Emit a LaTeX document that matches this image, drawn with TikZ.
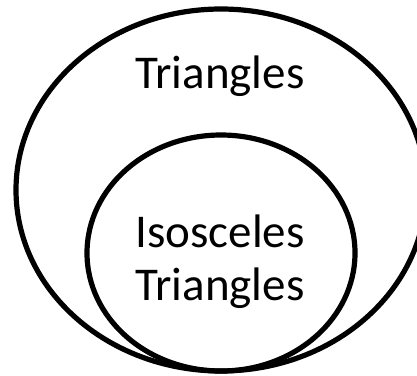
\documentclass[tikz,border=0pt]{standalone}
\usepackage{fontspec}
\setmainfont{Carlito}
\begin{document}
\begin{tikzpicture}[x=1pt,y=-1pt,
  ring/.style={draw=black,line width=5.2pt},
  lbl/.style={font=\fontsize{47}{53}\selectfont,inner sep=0pt,anchor=base,align=center}]
\useasboundingbox (0,0) rectangle (417,375);
\begin{scope}
\clip (0,0) rectangle (417,375);
\draw[ring] (221,190) ellipse [x radius=205, y radius=181];
\draw[ring] (221,253) ellipse [x radius=134, y radius=118];
\end{scope}
\node[lbl] (outer) at (220,88) {Triangles};
\node[lbl] (inner1) at (220,247) {Isosceles};
\node[lbl] (inner2) at (220,300) {Triangles};
\end{tikzpicture}
\end{document}
